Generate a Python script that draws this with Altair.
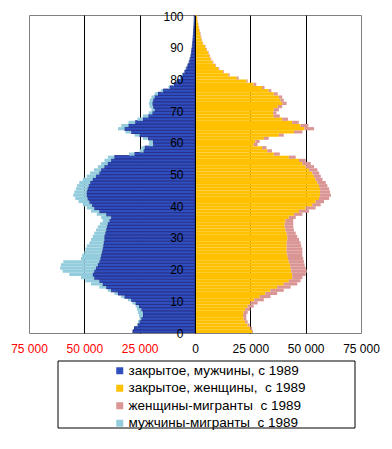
import altair as alt
import pandas as pd

ages = list(range(101))

male_closed = [28000, 27300, 25800, 25000, 24200, 23500, 23500, 24200, 25300, 26800,
               28800, 31800, 34800, 37900, 40100, 41700, 43200, 45500, 46200, 45500,
               44700, 43900, 43200, 42700, 42400, 42000, 41700, 41400, 41200, 40900,
               40900, 40500, 40100, 39800, 39400, 38600, 37900, 40100, 43200, 45500,
               46500, 47700, 48500, 48900, 48900, 48500, 48000, 47300, 46200, 44700,
               43200, 42400, 40900, 39400, 37900, 36400, 27300, 23200, 22700, 18900,
               19000, 21200, 25000, 28800, 31800, 30000, 27000, 23500, 21000, 19200,
               18200, 18900, 19200, 18900, 18200, 16700, 14400, 11400, 9500, 8000,
               6500, 5500, 4600, 3900, 3200, 2600, 2200, 1800, 1600, 1400,
               1200, 1050, 900, 800, 700, 600, 500, 400, 350, 300, 300]

male_migr = [0, 0, 300, 800, 800, 1800, 2300, 2000, 1500, 1500,
             1500, 1500, 1600, 1500, 3100, 5300, 6300, 6000, 10600, 14300,
             16200, 16700, 16300, 8800, 8600, 8000, 7800, 7500, 6500, 6100,
             5300, 5000, 4600, 4100, 3500, 3100, 4500, 4300, 3800, 3400,
             4200, 4900, 5600, 6100, 5600, 5300, 5300, 5000, 4500, 4200,
             4200, 3300, 3000, 3000, 3000, 3000, 2500, 1800, 1500, 2000,
             1800, 2300, 2300, 2600, 3000, 3300, 3000, 2500, 2500, 1700,
             1500, 1600, 1600, 1600, 1500, 1500, 1000, 600, 400, 300,
             300, 250, 200, 200, 150, 150, 150, 100, 100, 100,
             100, 100, 100, 100, 100, 100, 100, 100, 100, 100, 100]

female_closed = [25800, 25000, 23800, 22700, 22000, 21700, 22000, 22700, 23800, 25000,
                 26800, 29200, 31800, 34100, 37100, 40100, 42400, 43900, 43900, 43500,
                 43200, 42900, 42400, 42000, 41700, 41400, 41400, 41400, 41400, 41700,
                 41700, 41400, 40900, 40500, 40500, 40900, 42400, 44700, 47000, 50000,
                 53000, 54500, 56000, 56500, 56500, 56500, 56000, 55300, 54500, 53800,
                 53000, 51500, 50000, 48500, 47000, 42400, 35600, 32600, 30300, 26500,
                 27300, 31100, 37900, 44700, 49500, 47700, 43900, 39400, 35600, 35300,
                 35600, 37400, 39400, 38600, 37900, 35600, 33300, 30300, 26500, 23200,
                 18900, 15150, 12600, 10600, 9100, 8000, 7100, 6500, 6000, 5200,
                 4500, 3500, 3000, 2600, 2300, 2000, 1700, 1400, 1100, 900, 750]

female_migr = [400, 800, 900, 1100, 1200, 1500, 1800, 2300, 2700, 3300,
               4300, 4900, 5300, 6000, 6100, 6100, 5300, 4600, 6100, 7000,
               6800, 6600, 6800, 6900, 6800, 7100, 7100, 6600, 6300, 5300,
               4500, 4100, 3800, 3900, 3900, 3500, 3100, 3800, 4500, 4500,
               3800, 3800, 4600, 4900, 4500, 4100, 3800, 3800, 3100, 3000,
               3100, 3800, 3800, 3800, 3000, 3100, 2700, 2200, 2000, 1800,
               1900, 2200, 2200, 3800, 4300, 3500, 3000, 2600, 2700, 1500,
               2300, 2000, 2000, 1500, 1500, 1800, 1200, 1100, 1200, 600,
               800, 500, 400, 400, 350, 300, 300, 300, 250, 250,
               250, 200, 200, 200, 200, 200, 150, 150, 150, 150, 150]

series_names = ["закрытое, мужчины, с 1989",
                "закрытое, женщины,\u00a0 с 1989",
                "женщины-мигранты\u00a0 с 1989",
                "мужчины-мигранты\u00a0 с 1989"]
series_colors = ["#2F4FBF", "#FFC000", "#DA9694", "#93CDDD"]

x_ticks = [-75000, -50000, -25000, 0, 25000, 50000, 75000]
y_ticks = list(range(0, 101, 10))

rows = []
for i, a in enumerate(ages):
    mc, mm, fc, fm = male_closed[i], male_migr[i], female_closed[i], female_migr[i]
    rows.append(dict(age=a, age1=a + 1, x0=0, x1=-mc, s=series_names[0]))
    rows.append(dict(age=a, age1=a + 1, x0=-mc, x1=-(mc + mm), s=series_names[3]))
    rows.append(dict(age=a, age1=a + 1, x0=0, x1=fc, s=series_names[1]))
    rows.append(dict(age=a, age1=a + 1, x0=fc, x1=fc + fm, s=series_names[2]))
df = pd.DataFrame(rows)

bars = alt.Chart(df).mark_rect(clip=True).encode(
    x=alt.X("x0:Q",
            scale=alt.Scale(domain=[-75000, 75000], nice=False),
            axis=alt.Axis(values=x_ticks, title=None, domain=False, ticks=False,
                          labelExpr="replace(format(abs(datum.value), ','), ',', ' ')",
                          labelColor={"condition": {"test": "datum.value < 0", "value": "#FF0000"},
                                      "value": "black"},
                          grid=True,
                          gridColor={"condition": {"test": "abs(datum.value) >= 75000 || datum.value == 0",
                                                   "value": "transparent"},
                                     "value": "black"},
                          gridWidth=1, gridOpacity=1,
                          labelFlush=False, labelPadding=10, labelFontSize=12)),
    x2="x1:Q",
    y=alt.Y("age:Q",
            scale=alt.Scale(domain=[0, 100.4], nice=False),
            axis=alt.Axis(values=y_ticks, title=None, grid=False, ticks=False,
                          offset=-166, labelPadding=12, domainColor="black",
                          domainWidth=1, zindex=1, labelFontSize=12,
                          labelColor="black")),
    y2="age1:Q",
    color=alt.Color("s:N",
                    scale=alt.Scale(domain=series_names, range=series_colors),
                    legend=alt.Legend(title=None, orient="none", legendX=84, legendY=349,
                                      symbolType="square", symbolSize=49,
                                      symbolStrokeWidth=0, labelFontSize=13.5,
                                      labelLimit=300, rowPadding=2.5, labelOffset=2,
                                      padding=0, labelColor="black")),
    stroke=alt.value("#27318C"),
    strokeWidth=alt.condition(alt.datum.s == series_names[0], alt.value(1), alt.value(0)),
)

frame = alt.Chart(pd.DataFrame({"k": [0]})).mark_rect(
    fill="white", stroke="black", strokeWidth=1
).encode(x=alt.value(29), x2=alt.value(326), y=alt.value(346), y2=alt.value(413))

chart = alt.layer(frame, bars).properties(
    width=332, height=318,
    autosize=alt.AutoSizeParams(type="none"),
    padding={"left": 21, "top": 7, "right": 23, "bottom": 110},
).configure(font="Liberation Sans").configure_view(stroke="#808080", strokeWidth=1)

chart.save("out.html", embed_options={"renderer": "svg", "actions": False})
